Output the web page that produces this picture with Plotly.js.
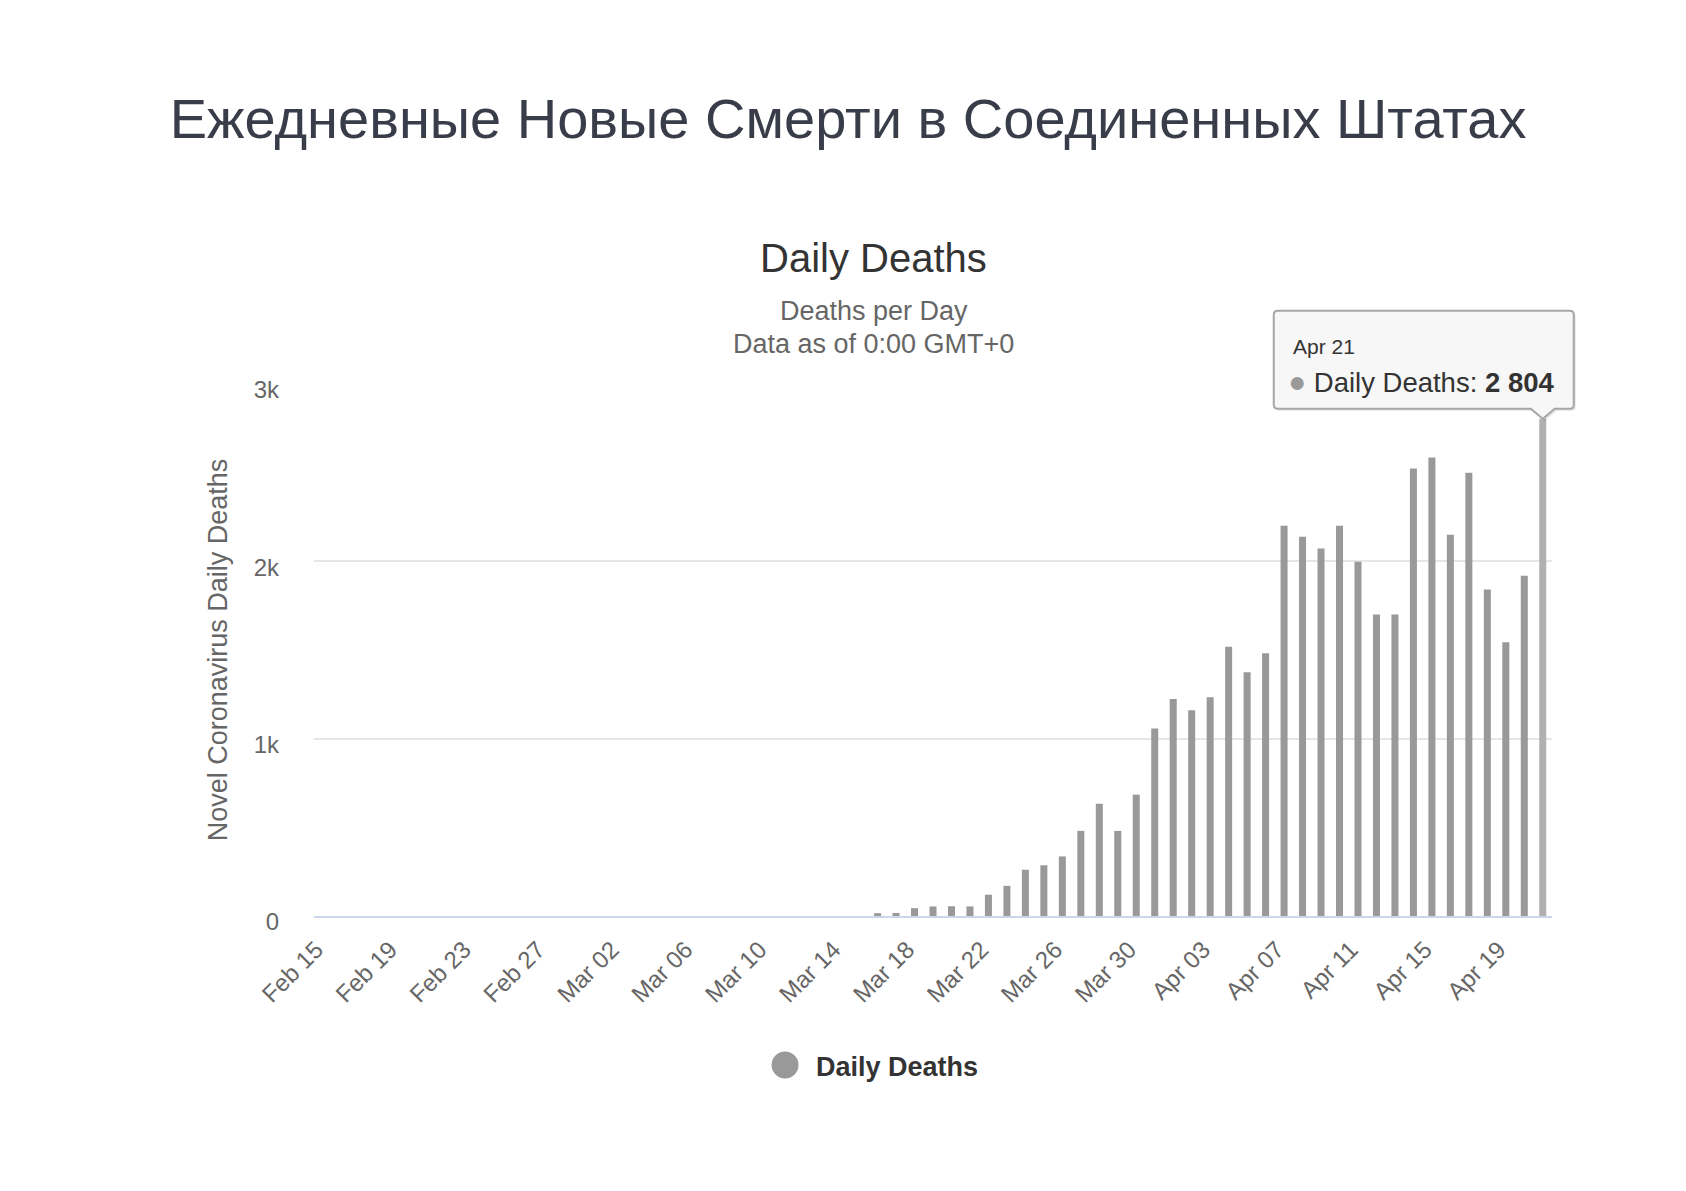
<!DOCTYPE html>
<html>
<head>
<meta charset="utf-8">
<script src="https://cdn.plot.ly/plotly-3.0.1.min.js"></script>
<style>
  html, body { margin: 0; padding: 0; background: #ffffff; }
  #chart { width: 1686px; height: 1191px; }
</style>
</head>
<body>
<div id="chart"></div>
<script>
"use strict"
// данные графика
const pageTitle = "Ежедневные Новые Смерти в Соединенных Штатах";
const chartTitle = "Daily Deaths";
const subTitle1 = "Deaths per Day";
const subTitle2 = "Data as of 0:00 GMT+0";
const yTitle = "Novel Coronavirus Daily Deaths";
const seriesName = "Daily Deaths";
const startDay = "2020-02-15";
const dailyDeaths = [
    0, 0, 0, 0, 0, 0, 0, 0, 0, 0,          // Feb 15 - Feb 24
    0, 0, 0, 0, 0, 0, 0, 0, 0, 0,          // Feb 25 - Mar 05
    0, 0, 0, 0, 0, 0, 0, 0, 0, 0,          // Mar 06 - Mar 15
    16, 17, 44, 54, 55, 54, 120, 170, 261, 286,        // Mar 16 - Mar 25
    336, 480, 633, 480, 684, 1058, 1224, 1160, 1234, 1518, // Mar 26 - Apr 04
    1375, 1481, 2200, 2138, 2072, 2200, 1997, 1700, 1700, 2523, // Apr 05 - Apr 14
    2585, 2150, 2499, 1841, 1544, 1918, 2804            // Apr 15 - Apr 21
];
const yMax = 3000;

// даты по дням от startDay
const DAY = 86400000;
let days = [];
let t0 = Date.parse(startDay + "T00:00:00Z");
for (let i = 0; i < dailyDeaths.length; i++) {
    days.push(new Date(t0 + i * DAY).toISOString().slice(0, 10));
}
let n = dailyDeaths.length;
let lastIdx = n - 1;
let lastDay = days[lastIdx], lastVal = dailyDeaths[lastIdx];
// положение последнего столбца в долях области построения (ось от -0.5 до n-0.5 дня)
let lastPx = (lastIdx + 0.5) / n, lastPy = lastVal / yMax;

const FONT = "Liberation Sans, Arial, Helvetica, sans-serif";

let barColors = dailyDeaths.map((v, i) => i === lastIdx ? "#b0b0b0" : "#999999");

// всплывающая подсказка (рамка с хвостиком), в пикселях от вершины столбца
function calloutPath(dx, dy) {
    let L = -269 + dx, R = 31 + dx, T = 108 + dy, B = 10 + dy, r = 4;
    return `M ${L + r},${T} L ${R - r},${T} Q ${R},${T} ${R},${T - r} L ${R},${B + r} Q ${R},${B} ${R - r},${B}` +
        ` L ${12 + dx},${B} L ${dx},${dy} L ${-12 + dx},${B} L ${L + r},${B} Q ${L},${B} ${L},${B + r}` +
        ` L ${L},${T - r} Q ${L},${T} ${L + r},${T} Z`;
}
function fmtNum(v) {
    return String(v).replace(/\B(?=(\d{3})+(?!\d))/g, " ");
}

let data = [{
    type: "bar",
    x: days,
    y: dailyDeaths,
    name: seriesName,
    marker: { color: barColors, line: { width: 0 } },
    hoverinfo: "skip",
    showlegend: false
}];

let layout = {
    width: 1686,
    height: 1191,
    paper_bgcolor: "#ffffff",
    plot_bgcolor: "#ffffff",
    font: { family: FONT, color: "#666666" },
    margin: { l: 314, r: 134, t: 384, b: 275 },
    bargap: 0.62,
    showlegend: false,
    title: {
        text: pageTitle,
        font: { family: FONT, size: 56, color: "#393c49" },
        x: 0.503, xanchor: "center",
        y: 1 - 118 / 1191, yanchor: "middle", yref: "container"
    },
    xaxis: {
        type: "date",
        range: [t0 - DAY / 2, t0 + (n - 0.5) * DAY],
        tick0: startDay,
        dtick: 4 * DAY,
        tickformat: "%b %d",
        tickangle: -45,
        tickfont: { size: 24, color: "#666666" },
        ticklabelstandoff: 8,
        ticklabelshift: -7,
        showgrid: false,
        showline: true,
        linecolor: "#ccd6eb",
        linewidth: 2,
        zeroline: false,
        fixedrange: true
    },
    yaxis: {
        range: [0, yMax],
        dtick: 1000,
        tickformat: "~s",
        tickfont: { size: 24, color: "#666666" },
        ticklabelstandoff: 34,
        ticklabelshift: 6,
        showgrid: true,
        gridcolor: "#e6e6e6",
        gridwidth: 2,
        zeroline: false,
        showline: false,
        title: {
            text: yTitle,
            font: { size: 27, color: "#666666" },
            standoff: 18
        },
        fixedrange: true
    },
    shapes: [
        // тень подсказки
        {
            type: "path", layer: "above",
            xref: "paper", yref: "paper", xsizemode: "pixel", ysizemode: "pixel",
            xanchor: lastPx, yanchor: lastPy,
            path: calloutPath(2, -2),
            fillcolor: "rgba(0,0,0,0.10)", line: { width: 0 }
        },
        {
            type: "path", layer: "above",
            xref: "paper", yref: "paper", xsizemode: "pixel", ysizemode: "pixel",
            xanchor: lastPx, yanchor: lastPy,
            path: calloutPath(0, 0),
            fillcolor: "rgba(247,247,247,0.97)", line: { color: "#a6a6a6", width: 2 }
        },
        // кружок легенды
        {
            type: "circle", layer: "above",
            xref: "paper", yref: "paper", xsizemode: "pixel", ysizemode: "pixel",
            xanchor: 0.3805, yanchor: -0.2801,
            x0: -13.5, x1: 13.5, y0: -13.5, y1: 13.5,
            fillcolor: "#999999", line: { width: 0 }
        }
    ],
    annotations: [
        {
            text: chartTitle, xref: "paper", yref: "paper", x: 0.4523, y: 1.2368,
            xanchor: "center", yanchor: "middle", showarrow: false,
            font: { size: 40, color: "#333333" }
        },
        {
            text: subTitle1, xref: "paper", yref: "paper", x: 0.4523, y: 1.1372,
            xanchor: "center", yanchor: "middle", showarrow: false,
            font: { size: 27, color: "#666666" }
        },
        {
            text: subTitle2, xref: "paper", yref: "paper", x: 0.4523, y: 1.0752,
            xanchor: "center", yanchor: "middle", showarrow: false,
            font: { size: 27, color: "#666666" }
        },
        {
            text: "<b>" + seriesName + "</b>", xref: "paper", yref: "paper", x: 0.4035, y: -0.283,
            xanchor: "left", yanchor: "middle", showarrow: false,
            font: { size: 27, color: "#333333" }
        },
        // текст подсказки
        {
            text: "Apr " + lastDay.slice(8, 10), xref: "paper", yref: "paper", x: lastPx, y: lastPy,
            xanchor: "left", yanchor: "middle", xshift: -252, yshift: 72, showarrow: false,
            font: { size: 21, color: "#333333" }
        },
        {
            text: "<span style='color:#999999;font-size:30px'>●</span> " + seriesName + ": <b>" + fmtNum(lastVal) + "</b>",
            xref: "paper", yref: "paper", x: lastPx, y: lastPy,
            xanchor: "left", yanchor: "middle", xshift: -257, yshift: 37, showarrow: false,
            font: { size: 27.5, color: "#333333" }
        }
    ]
};

Plotly.newPlot("chart", data, layout, { displayModeBar: false, staticPlot: true });
</script>
</body>
</html>
